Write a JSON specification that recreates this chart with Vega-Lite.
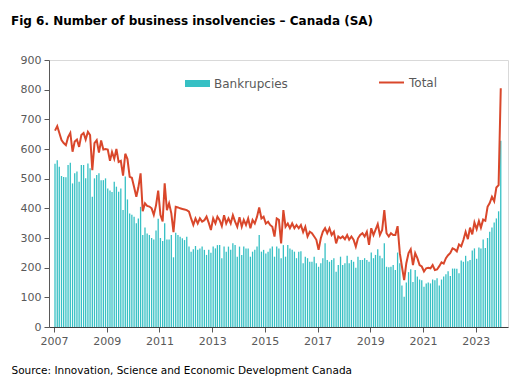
{
 "$schema": "https://vega.github.io/schema/vega-lite/v6.json",
 "width": 459, "height": 267,
 "autosize": {"type": "none"},
 "padding": {"left": 49, "top": 60, "right": 9, "bottom": 53},
 "background": "white",
 "config": {"font": "DejaVu Sans", "view": {"stroke": "#d9d9d9"},
  "axisY": {"values": [0,100,200,300,400,500,600,700,800,900], "title": null, "labelFontSize": 11, "labelColor": "#595959", "tickColor": "#595959", "domainColor": "#595959", "tickSize": 5, "labelPadding": 3, "grid": false, "labelFont": "DejaVu Sans", "labelOverlap": false}},
 "title": {"text": "Fig 6. Number of business insolvencies – Canada (SA)", "anchor": "start", "frame": "group", "dx": -38, "fontSize": 12, "fontWeight": "bold", "color": "#000000", "offset": 26, "font": "DejaVu Sans"},
 "datasets": {"m": [
{"d":"2007-01-15","b":550,"t":662},{"d":"2007-02-15","b":562,"t":677},{"d":"2007-03-15","b":540,"t":655},{"d":"2007-04-15","b":509,"t":630},{"d":"2007-05-15","b":506,"t":620},{"d":"2007-06-15","b":505,"t":613},{"d":"2007-07-15","b":546,"t":640},{"d":"2007-08-15","b":554,"t":654},{"d":"2007-09-15","b":484,"t":591},{"d":"2007-10-15","b":518,"t":625},{"d":"2007-11-15","b":524,"t":632},{"d":"2007-12-15","b":490,"t":607},
{"d":"2008-01-15","b":546,"t":647},{"d":"2008-02-15","b":546,"t":654},{"d":"2008-03-15","b":501,"t":632},{"d":"2008-04-15","b":551,"t":658},{"d":"2008-05-15","b":535,"t":647},{"d":"2008-06-15","b":439,"t":529},{"d":"2008-07-15","b":501,"t":620},{"d":"2008-08-15","b":512,"t":630},{"d":"2008-09-15","b":518,"t":588},{"d":"2008-10-15","b":495,"t":629},{"d":"2008-11-15","b":495,"t":598},{"d":"2008-12-15","b":501,"t":600},
{"d":"2009-01-15","b":467,"t":598},{"d":"2009-02-15","b":460,"t":560},{"d":"2009-03-15","b":455,"t":590},{"d":"2009-04-15","b":490,"t":567},{"d":"2009-05-15","b":473,"t":600},{"d":"2009-06-15","b":456,"t":556},{"d":"2009-07-15","b":467,"t":560},{"d":"2009-08-15","b":394,"t":510},{"d":"2009-09-15","b":507,"t":584},{"d":"2009-10-15","b":430,"t":566},{"d":"2009-11-15","b":383,"t":506},{"d":"2009-12-15","b":378,"t":503},
{"d":"2010-01-15","b":372,"t":472},{"d":"2010-02-15","b":350,"t":439},{"d":"2010-03-15","b":366,"t":470},{"d":"2010-04-15","b":405,"t":518},{"d":"2010-05-15","b":310,"t":390},{"d":"2010-06-15","b":335,"t":417},{"d":"2010-07-15","b":315,"t":408},{"d":"2010-08-15","b":310,"t":406},{"d":"2010-09-15","b":300,"t":400},{"d":"2010-10-15","b":295,"t":378},{"d":"2010-11-15","b":325,"t":410},{"d":"2010-12-15","b":365,"t":460},
{"d":"2011-01-15","b":300,"t":378},{"d":"2011-02-15","b":290,"t":356},{"d":"2011-03-15","b":350,"t":484},{"d":"2011-04-15","b":295,"t":394},{"d":"2011-05-15","b":295,"t":417},{"d":"2011-06-15","b":310,"t":383},{"d":"2011-07-15","b":235,"t":320},{"d":"2011-08-15","b":318,"t":405},{"d":"2011-09-15","b":310,"t":403},{"d":"2011-10-15","b":304,"t":400},{"d":"2011-11-15","b":299,"t":398},{"d":"2011-12-15","b":293,"t":396},
{"d":"2012-01-15","b":304,"t":394},{"d":"2012-02-15","b":271,"t":389},{"d":"2012-03-15","b":254,"t":366},{"d":"2012-04-15","b":262,"t":344},{"d":"2012-05-15","b":273,"t":366},{"d":"2012-06-15","b":260,"t":349},{"d":"2012-07-15","b":265,"t":366},{"d":"2012-08-15","b":271,"t":355},{"d":"2012-09-15","b":260,"t":360},{"d":"2012-10-15","b":243,"t":372},{"d":"2012-11-15","b":260,"t":351},{"d":"2012-12-15","b":250,"t":327},
{"d":"2013-01-15","b":271,"t":366},{"d":"2013-02-15","b":265,"t":349},{"d":"2013-03-15","b":276,"t":372},{"d":"2013-04-15","b":276,"t":360},{"d":"2013-05-15","b":232,"t":340},{"d":"2013-06-15","b":271,"t":377},{"d":"2013-07-15","b":254,"t":349},{"d":"2013-08-15","b":271,"t":366},{"d":"2013-09-15","b":260,"t":349},{"d":"2013-10-15","b":282,"t":377},{"d":"2013-11-15","b":276,"t":355},{"d":"2013-12-15","b":237,"t":338},
{"d":"2014-01-15","b":271,"t":370},{"d":"2014-02-15","b":243,"t":338},{"d":"2014-03-15","b":271,"t":361},{"d":"2014-04-15","b":265,"t":344},{"d":"2014-05-15","b":265,"t":366},{"d":"2014-06-15","b":237,"t":333},{"d":"2014-07-15","b":254,"t":361},{"d":"2014-08-15","b":260,"t":349},{"d":"2014-09-15","b":271,"t":372},{"d":"2014-10-15","b":310,"t":403},{"d":"2014-11-15","b":254,"t":366},{"d":"2014-12-15","b":260,"t":372},
{"d":"2015-01-15","b":248,"t":349},{"d":"2015-02-15","b":254,"t":355},{"d":"2015-03-15","b":265,"t":344},{"d":"2015-04-15","b":271,"t":338},{"d":"2015-05-15","b":237,"t":305},{"d":"2015-06-15","b":271,"t":366},{"d":"2015-07-15","b":265,"t":361},{"d":"2015-08-15","b":232,"t":282},{"d":"2015-09-15","b":276,"t":394},{"d":"2015-10-15","b":237,"t":338},{"d":"2015-11-15","b":276,"t":349},{"d":"2015-12-15","b":265,"t":333},
{"d":"2016-01-15","b":260,"t":349},{"d":"2016-02-15","b":254,"t":333},{"d":"2016-03-15","b":232,"t":344},{"d":"2016-04-15","b":254,"t":333},{"d":"2016-05-15","b":255,"t":344},{"d":"2016-06-15","b":215,"t":320},{"d":"2016-07-15","b":237,"t":338},{"d":"2016-08-15","b":232,"t":305},{"d":"2016-09-15","b":220,"t":321},{"d":"2016-10-15","b":220,"t":316},{"d":"2016-11-15","b":237,"t":305},{"d":"2016-12-15","b":215,"t":294},
{"d":"2017-01-15","b":203,"t":260},{"d":"2017-02-15","b":215,"t":299},{"d":"2017-03-15","b":232,"t":321},{"d":"2017-04-15","b":282,"t":333},{"d":"2017-05-15","b":226,"t":316},{"d":"2017-06-15","b":220,"t":333},{"d":"2017-07-15","b":226,"t":310},{"d":"2017-08-15","b":232,"t":321},{"d":"2017-09-15","b":186,"t":282},{"d":"2017-10-15","b":209,"t":305},{"d":"2017-11-15","b":237,"t":299},{"d":"2017-12-15","b":209,"t":305},
{"d":"2018-01-15","b":215,"t":296},{"d":"2018-02-15","b":240,"t":310},{"d":"2018-03-15","b":215,"t":294},{"d":"2018-04-15","b":226,"t":305},{"d":"2018-05-15","b":220,"t":294},{"d":"2018-06-15","b":200,"t":271},{"d":"2018-07-15","b":237,"t":299},{"d":"2018-08-15","b":226,"t":310},{"d":"2018-09-15","b":226,"t":316},{"d":"2018-10-15","b":232,"t":305},{"d":"2018-11-15","b":226,"t":321},{"d":"2018-12-15","b":220,"t":277},
{"d":"2019-01-15","b":251,"t":333},{"d":"2019-02-15","b":232,"t":310},{"d":"2019-03-15","b":243,"t":327},{"d":"2019-04-15","b":262,"t":347},{"d":"2019-05-15","b":240,"t":310},{"d":"2019-06-15","b":232,"t":327},{"d":"2019-07-15","b":282,"t":394},{"d":"2019-08-15","b":203,"t":316},{"d":"2019-09-15","b":201,"t":305},{"d":"2019-10-15","b":203,"t":316},{"d":"2019-11-15","b":209,"t":310},{"d":"2019-12-15","b":192,"t":310},
{"d":"2020-01-15","b":251,"t":340},{"d":"2020-02-15","b":215,"t":249},{"d":"2020-03-15","b":140,"t":204},{"d":"2020-04-15","b":102,"t":158},{"d":"2020-05-15","b":150,"t":215},{"d":"2020-06-15","b":185,"t":249},{"d":"2020-07-15","b":195,"t":262},{"d":"2020-08-15","b":152,"t":209},{"d":"2020-09-15","b":192,"t":249},{"d":"2020-10-15","b":170,"t":232},{"d":"2020-11-15","b":160,"t":209},{"d":"2020-12-15","b":158,"t":204},
{"d":"2021-01-15","b":136,"t":187},{"d":"2021-02-15","b":147,"t":198},{"d":"2021-03-15","b":150,"t":200},{"d":"2021-04-15","b":147,"t":198},{"d":"2021-05-15","b":160,"t":209},{"d":"2021-06-15","b":158,"t":192},{"d":"2021-07-15","b":164,"t":194},{"d":"2021-08-15","b":140,"t":205},{"d":"2021-09-15","b":160,"t":218},{"d":"2021-10-15","b":170,"t":214},{"d":"2021-11-15","b":178,"t":232},{"d":"2021-12-15","b":188,"t":242},
{"d":"2022-01-15","b":172,"t":250},{"d":"2022-02-15","b":197,"t":265},{"d":"2022-03-15","b":197,"t":262},{"d":"2022-04-15","b":196,"t":255},{"d":"2022-05-15","b":181,"t":278},{"d":"2022-06-15","b":224,"t":272},{"d":"2022-07-15","b":220,"t":293},{"d":"2022-08-15","b":240,"t":321},{"d":"2022-09-15","b":222,"t":296},{"d":"2022-10-15","b":226,"t":335},{"d":"2022-11-15","b":258,"t":312},{"d":"2022-12-15","b":265,"t":352},
{"d":"2023-01-15","b":230,"t":330},{"d":"2023-02-15","b":268,"t":357},{"d":"2023-03-15","b":265,"t":335},{"d":"2023-04-15","b":295,"t":362},{"d":"2023-05-15","b":266,"t":358},{"d":"2023-06-15","b":300,"t":405},{"d":"2023-07-15","b":321,"t":418},{"d":"2023-08-15","b":335,"t":439},{"d":"2023-09-15","b":352,"t":424},{"d":"2023-10-15","b":366,"t":470},{"d":"2023-11-15","b":390,"t":478},{"d":"2023-12-15","b":628,"t":805}
 ]},
 "data": {"name": "m"},
 "encoding": {
  "x": {"field": "d", "type": "temporal",
   "scale": {"domain": [{"year": 2007, "month": 1, "date": 1}, {"year": 2024, "month": 1, "date": 15}]},
   "axis": {"values": [{"year": 2007}, {"year": 2009}, {"year": 2011}, {"year": 2013}, {"year": 2015}, {"year": 2017}, {"year": 2019}, {"year": 2021}, {"year": 2023}],
    "format": "%Y", "labelFontSize": 11, "labelColor": "#595959", "tickColor": "#595959", "domainColor": "#404040", "tickSize": 5, "labelPadding": 3, "grid": false, "labelFont": "DejaVu Sans", "labelOverlap": false,
    "title": "Source: Innovation, Science and Economic Development Canada", "titleX": -38, "titleY": 43, "titleAlign": "left", "titleAnchor": "start", "titleBaseline": "middle", "titleFontSize": 10.5, "titleFontWeight": "normal", "titleColor": "#000000", "titleFont": "DejaVu Sans"}}
 },
 "layer": [
  {"mark": {"type": "bar", "size": 1.3},
   "encoding": {
    "y": {"field": "b", "type": "quantitative", "scale": {"domain": [0, 900]}, "axis": {"values": [0,100,200,300,400,500,600,700,800,900], "labelOverlap": false, "title": null}},
    "fill": {"datum": "Bankrupcies", "scale": {"range": ["#36c0c4"]},
     "legend": {"orient": "none", "legendX": 136, "legendY": 11, "title": null, "symbolType": "M-1,-0.28H1V0.28H-1Z", "symbolSize": 625, "symbolStrokeWidth": 0, "labelFontSize": 12, "labelColor": "#595959", "labelFont": "DejaVu Sans"}}
   }},
  {"mark": {"type": "line", "strokeWidth": 2},
   "encoding": {
    "y": {"field": "t", "type": "quantitative", "axis": {"values": [0,100,200,300,400,500,600,700,800,900], "labelOverlap": false, "title": null}},
    "stroke": {"datum": "Total", "scale": {"range": ["#d9472b"]},
     "legend": {"orient": "none", "legendX": 329, "legendY": 9, "title": null, "symbolType": "stroke", "symbolSize": 625, "symbolStrokeWidth": 2, "labelFontSize": 12, "labelColor": "#595959", "labelFont": "DejaVu Sans"}}
   }}
 ]
}
